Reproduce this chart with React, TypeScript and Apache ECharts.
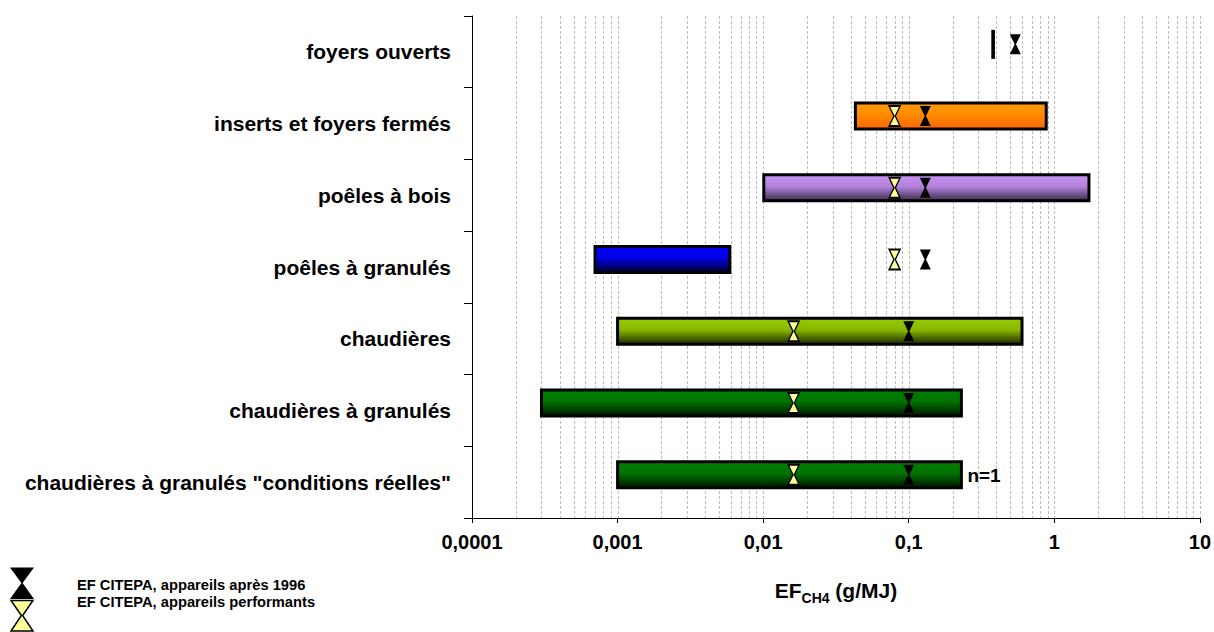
import React, { useEffect, useRef } from 'react';
import * as echarts from 'echarts';

const categories = [
  'foyers ouverts',
  'inserts et foyers fermés',
  'poêles à bois',
  'poêles à granulés',
  'chaudières',
  'chaudières à granulés',
  'chaudières à granulés "conditions réelles"',
];
const rangeMin = [0.378, 0.043, 0.0101, 0.0007, 0.001, 0.0003, 0.001];
const rangeMax = [0.382, 0.88, 1.73, 0.0059, 0.6, 0.23, 0.23];
const efApres1996 = [0.54, 0.13, 0.13, 0.13, 0.1, 0.1, 0.1];
const efPerformants = [null, 0.08, 0.08, 0.08, 0.0162, 0.0162, 0.0162];
const barNotes = ['', '', '', '', '', '', 'n=1'];
const xTickLabels = ['0,0001', '0,001', '0,01', '0,1', '1', '10'];
const seriesNames = ['EF CITEPA, appareils après 1996', 'EF CITEPA, appareils performants'];

const barGradients = [
  ['#000000', '#000000', '#000000'],
  ['#ff9c00', '#ff8a00', '#ff6400'],
  ['#c891f2', '#b282dc', '#3a2c4a'],
  ['#0000ff', '#0000e0', '#000030'],
  ['#99cc00', '#88b600', '#1e2800'],
  ['#008000', '#007200', '#001800'],
  ['#008000', '#007200', '#001800'],
];

const FONT = '"Liberation Sans", Arial, Helvetica, sans-serif';
const HOURGLASS = 'path://M0,0L10,0L5.6,10L10,20L0,20L4.4,10Z';
const BAR_OFFSET = -7.5;
const BAR_H = 26;

// gridline positions (2..9 x each decade, and decades)
const gridValues: number[] = [];
for (let e = -4; e <= 0; e++) {
  for (let m = 1; m <= 9; m++) {
    if (e === -4 && m === 1) continue;
    gridValues.push(Number((m * Math.pow(10, e)).toPrecision(3)));
  }
}
gridValues.push(10);

export default function App() {
  const ref = useRef<HTMLDivElement>(null);
  useEffect(() => {
    document.body.style.margin = '0';
    const chart = echarts.init(ref.current!, null, { renderer: 'svg' });
    const grads = barGradients.map(
      (g) =>
        new echarts.graphic.LinearGradient(0, 0, 0, 1, [
          { offset: 0, color: g[0] },
          { offset: 0.45, color: g[1] },
          { offset: 1, color: g[2] },
        ])
    );
    const option: any = {
      animation: false,
      backgroundColor: '#ffffff',
      grid: { left: 472, right: 14, top: 16, bottom: 114, containLabel: false },
      xAxis: {
        type: 'log',
        logBase: 10,
        min: 0.0001,
        max: 10,
        axisLine: { show: true, lineStyle: { color: '#000', width: 1 } },
        axisTick: { show: true, length: 5, lineStyle: { color: '#000' } },
        splitLine: { show: false },
        axisLabel: {
          fontFamily: FONT,
          fontWeight: 'bold',
          fontSize: 20,
          color: '#000',
          margin: 14,
          formatter: (v: number) => xTickLabels[Math.round(Math.log10(v)) + 4],
        },
        name: '{a|EF}{s|CH4}{a| (g/MJ)}',
        nameLocation: 'middle',
        nameGap: 57,
        nameTextStyle: {
          rich: {
            a: { fontFamily: FONT, fontWeight: 'bold', fontSize: 21, color: '#000', lineHeight: 30 },
            s: { fontFamily: FONT, fontWeight: 'bold', fontSize: 14, color: '#000', lineHeight: 30, verticalAlign: 'bottom' },
          },
        },
      },
      yAxis: {
        type: 'category',
        data: categories,
        inverse: true,
        axisLine: { show: true, lineStyle: { color: '#000', width: 1 } },
        axisTick: { show: true, length: 8, lineStyle: { color: '#000' } },
        splitLine: { show: false },
        axisLabel: {
          fontFamily: FONT,
          fontWeight: 'bold',
          fontSize: 21,
          color: '#000',
          margin: 21,
        },
      },
      series: [
        {
          type: 'custom',
          z: 1,
          silent: true,
          encode: { x: 0, y: 1 },
          data: gridValues.map((v) => [v, 0]),
          renderItem: (params: any, api: any) => {
            const p = api.coord([api.value(0), 0]);
            const cs = params.coordSys;
            const x = Math.round(p[0]) + 0.5;
            return {
              type: 'line',
              shape: { x1: x, y1: cs.y, x2: x, y2: cs.y + cs.height },
              style: { stroke: '#bdbdbd', lineWidth: 1, lineDash: [3, 2] },
            };
          },
        },
        {
          type: 'custom',
          z: 2,
          encode: { x: [0, 1], y: 2 },
          data: categories.map((c, i) => [rangeMin[i], rangeMax[i], i]),
          renderItem: (params: any, api: any) => {
            const i = params.dataIndex;
            const lo = api.value(0);
            const hi = api.value(1);
            const cat = api.value(2);
            const a = api.coord([lo, cat]);
            const b = api.coord([hi, cat]);
            const cy = a[1] + BAR_OFFSET;
            const children: any[] = [
              {
                type: 'rect',
                shape: { x: a[0], y: cy - BAR_H / 2, width: b[0] - a[0], height: BAR_H },
                style: { fill: grads[i], stroke: '#000', lineWidth: 3 },
              },
            ];
            if (barNotes[i]) {
              children.push({
                type: 'text',
                x: b[0] + 6,
                y: cy + 1,
                style: {
                  text: barNotes[i],
                  fontFamily: FONT,
                  fontWeight: 'bold',
                  fontSize: 19,
                  fill: '#000',
                  align: 'left',
                  verticalAlign: 'middle',
                },
              });
            }
            return { type: 'group', children };
          },
        },
        {
          type: 'scatter',
          name: seriesNames[1],
          z: 3,
          symbol: HOURGLASS,
          symbolSize: [11, 20],
          symbolOffset: [0, BAR_OFFSET],
          itemStyle: { color: '#ffff99', borderColor: '#000', borderWidth: 1.5, opacity: 1 },
          data: efPerformants
            .map((v, i) => (v == null ? null : [v, categories[i]]))
            .filter((d) => d != null),
        },
        {
          type: 'scatter',
          name: seriesNames[0],
          z: 4,
          symbol: HOURGLASS,
          symbolSize: [11, 20],
          symbolOffset: [0, BAR_OFFSET],
          itemStyle: { color: '#000', opacity: 1 },
          data: efApres1996.map((v, i) => [v, categories[i]]),
        },
      ],
      graphic: [
        {
          type: 'polygon',
          shape: { points: [[10, 567.5], [34, 567.5], [22.6, 583], [34, 599], [10, 599], [21.4, 583]] },
          style: { fill: '#000' },
        },
        {
          type: 'polygon',
          shape: { points: [[11, 600.5], [33, 600.5], [22.6, 615.5], [33, 631], [11, 631], [21.4, 615.5]] },
          style: { fill: '#ffff99', stroke: '#000', lineWidth: 1.5 },
        },
        {
          type: 'text',
          x: 77,
          y: 585,
          style: {
            text: seriesNames[0],
            fontFamily: FONT,
            fontWeight: 'bold',
            fontSize: 14.7,
            fill: '#000',
            verticalAlign: 'middle',
          },
        },
        {
          type: 'text',
          x: 77,
          y: 602,
          style: {
            text: seriesNames[1],
            fontFamily: FONT,
            fontWeight: 'bold',
            fontSize: 14.7,
            fill: '#000',
            verticalAlign: 'middle',
          },
        },
      ],
    };
    chart.setOption(option);
    return () => chart.dispose();
  }, []);
  return <div ref={ref} style={{ width: 1214, height: 632 }} />;
}
